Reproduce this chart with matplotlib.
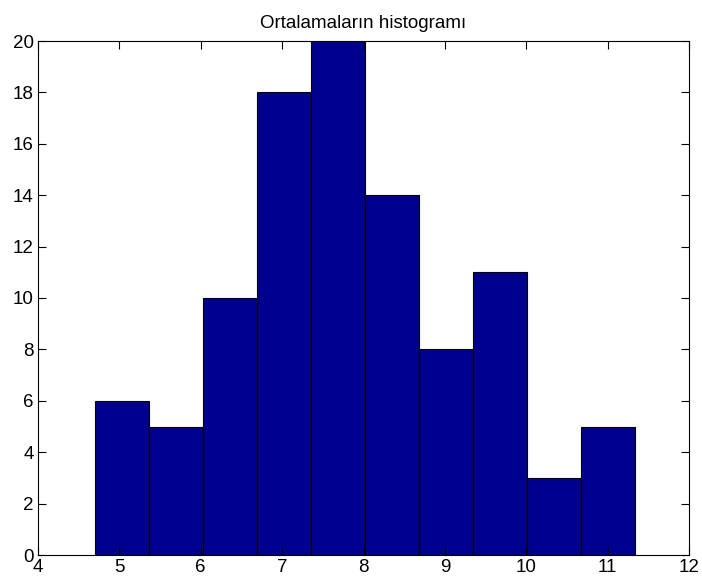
import numpy as np
import matplotlib.pyplot as plt

# histogram of the means
bin_edges = [4.70, 5.364, 6.028, 6.692, 7.356, 8.020, 8.684, 9.348, 10.012, 10.676, 11.340]
counts = [6, 5, 10, 18, 20, 14, 8, 11, 3, 5]
x_ticks = [4, 5, 6, 7, 8, 9, 10, 11, 12]
y_ticks = [0, 2, 4, 6, 8, 10, 12, 14, 16, 18, 20]

plt.rcParams['font.family'] = ['Liberation Sans', 'DejaVu Sans']

fig = plt.figure(figsize=(7.02, 5.84), dpi=100)
ax = fig.add_axes([38 / 702, 29 / 584, 651 / 702, 514 / 584])

edges = np.array(bin_edges)
ax.bar(edges[:-1], counts, width=np.diff(edges), align='edge',
       color='#00008F', edgecolor='black', linewidth=0.8)

ax.set_xlim(4, 12)
ax.set_ylim(0, 20)
ax.set_xticks(x_ticks)
ax.set_yticks(y_ticks)
ax.tick_params(direction='in', length=5.5, width=0.8, labelsize=13.5,
               top=True, right=True, pad=3)
for s in ax.spines.values():
    s.set_linewidth(0.8)

ax.set_title("Ortalamaların histogramı", fontsize=13.5, pad=9)

fig.savefig("out.png", dpi=100)
